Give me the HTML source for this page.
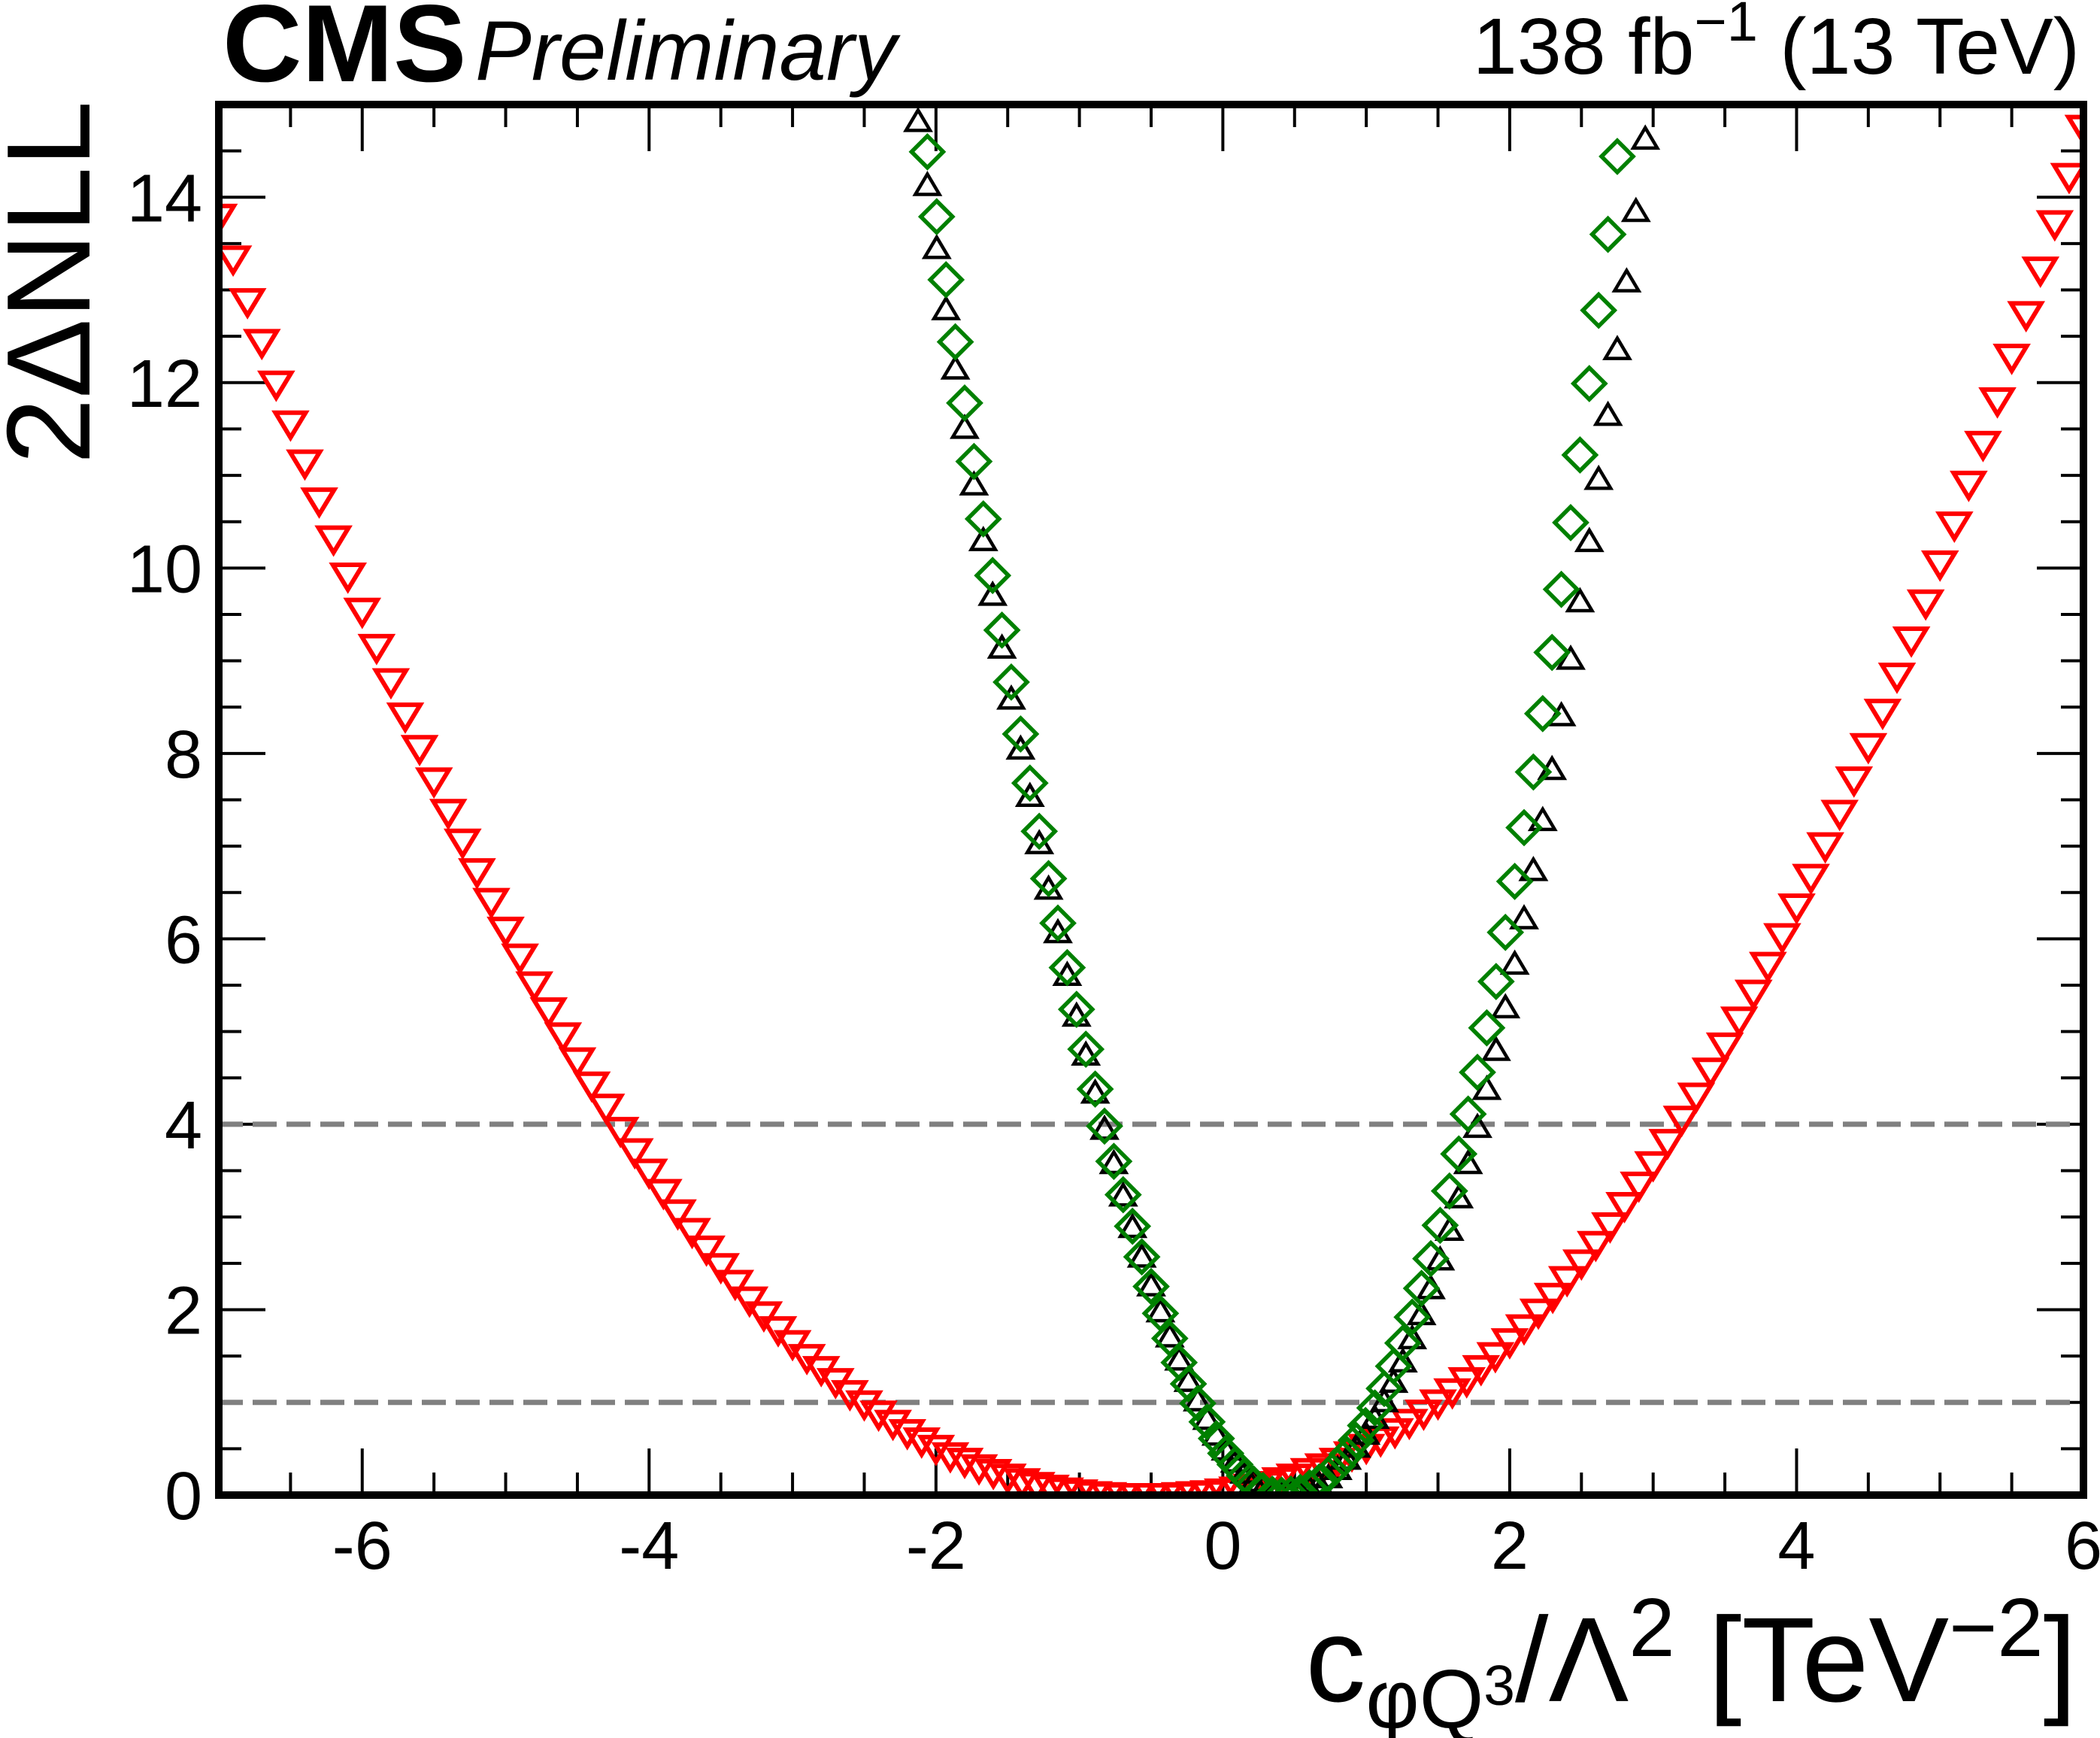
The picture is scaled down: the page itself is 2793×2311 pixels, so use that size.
<!DOCTYPE html>
<html>
<head>
<meta charset="utf-8">
<style>
html,body{margin:0;padding:0;background:#fff;}
svg{display:block;}
text{font-family:"Liberation Sans",Arial,sans-serif;}
</style>
</head>
<body>
<svg id="chart" width="2793" height="2311" viewBox="0 0 2793 2311" xmlns="http://www.w3.org/2000/svg">
  <defs>
    <clipPath id="plotclip"><rect x="291" y="139" width="2480" height="1849"/></clipPath>
  </defs>
  <rect x="0" y="0" width="2793" height="2311" fill="#fff"/>
  <g id="ticks"></g>
  <g id="labels"></g>
  <g id="refs"></g>
  <g id="marks" clip-path="url(#plotclip)"></g>
  <rect x="291" y="139" width="2480" height="1849" fill="none" stroke="#000" stroke-width="10"/>

  <text x="296" y="108" font-size="146" font-weight="bold">CMS</text>
  <text x="632" y="106" font-size="112" font-style="italic">Preliminary</text>
  <text x="2766" y="98" font-size="106" text-anchor="end">138 fb<tspan font-size="74" dy="-44">−1</tspan><tspan dy="44"> (13 TeV)</tspan></text>

  <text transform="translate(119,134) rotate(-90)" font-size="158" text-anchor="end">2ΔNLL</text>
  <text x="2762" y="2262" font-size="160" text-anchor="end">c<tspan font-size="110" dy="35">φQ</tspan><tspan font-size="75" dy="-30">3</tspan><tspan dy="-5">/Λ</tspan><tspan font-size="110" dy="-60">2</tspan><tspan dy="60"> [TeV</tspan><tspan font-size="110" dy="-60">−2</tspan><tspan dy="60">]</tspan></text>
</svg>
<script>
// ---- data ----
const xTickValues = [-6, -4, -2, 0, 2, 4, 6];
const xTickLabels = ["-6", "-4", "-2", "0", "2", "4", "6"];
const yTickValues = [0, 2, 4, 6, 8, 10, 12, 14];
const yTickLabels = ["0", "2", "4", "6", "8", "10", "12", "14"];
const refLevels = [1, 4];

// red scan: x from -7.0 in steps of 0.1
const redStart = -7.0;
const redStep = 0.1;
const redY = [13.8,13.35,12.89,12.45,12.0,11.57,11.15,10.74,10.33,9.93,9.55,9.16,8.79,8.42,8.07,7.72,7.38,7.06,6.74,6.42,6.11,5.82,5.52,5.24,4.97,4.70,4.44,4.20,3.95,3.72,3.50,3.28,3.06,2.86,2.67,2.48,2.30,2.12,1.96,1.80,1.65,1.50,1.37,1.24,1.11,1.00,0.89,0.79,0.69,0.60,0.52,0.44,0.38,0.31,0.26,0.21,0.16,0.12,0.09,0.06,0.04,0.02,0.01,0.00,0.00,
0.00,0.00,0.01,0.02,0.03,0.05,0.07,0.10,0.13,0.17,0.21,0.27,0.32,0.38,0.45,0.53,0.61,0.70,0.80,0.90,1.01,1.13,1.25,1.38,1.52,1.67,1.82,1.99,2.16,2.34,2.52,2.72,2.92,3.14,3.36,3.58,3.82,4.07,4.32,4.59,4.86,5.14,5.43,5.73,6.04,6.36,6.68,7.02,7.37,7.73,8.09,8.46,8.85,9.24,9.64,10.06,10.48,10.92,11.35,11.82,12.29,12.75,13.23,13.73,14.24,14.76];

// black & green scans: x from -2.125 in steps of 0.065
const scanStart = -2.125;
const scanStep = 0.065;
const blackY = [14.81,14.12,13.44,12.78,12.14,11.50,10.89,10.29,9.70,9.13,8.58,8.04,7.53,7.02,6.53,6.06,5.60,5.16,4.74,4.33,3.94,3.57,3.22,2.88,2.56,2.25,1.97,1.70,1.45,1.22,1.01,0.81,0.64,0.48,0.35,0.23,0.14,0.07,0.02,0.00,
0.00,0.02,0.06,0.11,0.18,0.27,0.38,0.51,0.65,0.82,1.00,1.21,1.43,1.68,1.94,2.22,2.53,2.85,3.20,3.57,3.96,4.37,4.79,5.25,5.72,6.21,6.73,7.27,7.82,8.40,9.01,9.63,10.28,10.95,11.64,12.35,13.08,13.84,14.62];
const greenY = [15.21,14.49,13.79,13.11,12.44,11.78,11.15,10.53,9.92,9.33,8.77,8.21,7.68,7.16,6.65,6.17,5.69,5.24,4.81,4.38,3.98,3.60,3.24,2.90,2.57,2.25,1.96,1.69,1.43,1.20,0.99,0.79,0.61,0.45,0.33,0.21,0.12,0.05,0.01,0.00,
0.01,0.03,0.08,0.14,0.22,0.32,0.44,0.59,0.75,0.94,1.15,1.39,1.64,1.92,2.23,2.55,2.91,3.28,3.68,4.11,4.56,5.04,5.54,6.07,6.62,7.20,7.80,8.43,9.09,9.77,10.49,11.22,11.99,12.78,13.60,14.44,15.31];

// ---- axes ----
const X0 = 291, X1 = 2771, Y0 = 1988, Y1 = 139;
const xMin = -7, xMax = 6, yMin = 0, yMax = 15;
function sx(v){ return X0 + (v - xMin) / (xMax - xMin) * (X1 - X0); }
function sy(v){ return Y0 - (v - yMin) / (yMax - yMin) * (Y0 - Y1); }

const NS = "http://www.w3.org/2000/svg";
function mk(tag, attrs, parent){
  const e = document.createElementNS(NS, tag);
  for (const k in attrs) e.setAttribute(k, attrs[k]);
  parent.appendChild(e);
  return e;
}
const ticksG = document.getElementById('ticks');
const labelsG = document.getElementById('labels');
const refsG = document.getElementById('refs');
const marksG = document.getElementById('marks');

for (let v = -7; v <= 6.0001; v += 0.5) {
  const isMajor = Math.abs(v / 2 - Math.round(v / 2)) < 1e-6;
  const len = isMajor ? 62 : 30;
  const x = sx(v);
  const t1 = mk('line', {x1:x, y1:Y0, x2:x, y2:Y0-len, stroke:'#000', 'stroke-width':4}, ticksG);
  
  
  const t2 = mk('line', {x1:x, y1:Y1, x2:x, y2:Y1+len, stroke:'#000', 'stroke-width':4}, ticksG);
  
  
}
for (let v = 0; v <= 15.0001; v += 0.5) {
  const isMajor = Math.abs(v / 2 - Math.round(v / 2)) < 1e-6;
  const len = isMajor ? 62 : 30;
  const y = sy(v);
  const t1 = mk('line', {x1:X0, y1:y, x2:X0+len, y2:y, stroke:'#000', 'stroke-width':4}, ticksG);
  
  
  const t2 = mk('line', {x1:X1, y1:y, x2:X1-len, y2:y, stroke:'#000', 'stroke-width':4}, ticksG);
  
  
}
xTickValues.forEach((v, i) => {
  const t = mk('text', {x:sx(v), y:2086, 'font-size':90, 'text-anchor':'middle'}, labelsG);
  t.textContent = xTickLabels[i];
  
  
});
yTickValues.forEach((v, i) => {
  const t = mk('text', {x:269, y:sy(v)+32, 'font-size':90, 'text-anchor':'end'}, labelsG);
  t.textContent = yTickLabels[i];
  
  
});
refLevels.forEach(v => {
  const l = mk('line', {x1:X0, y1:sy(v), x2:X1, y2:sy(v), stroke:'#808080', 'stroke-width':7, 'stroke-dasharray':'32 13'}, refsG);
  
  
});

function downTri(x, y){ return `M${x-20},${y-13} L${x+20},${y-13} L${x},${y+20} Z`; }
function upTri(x, y){ return `M${x-16},${y+11} L${x+16},${y+11} L${x},${y-16} Z`; }
function diamond(x, y){ return `M${x},${y-21} L${x+21},${y} L${x},${y+21} L${x-21},${y} Z`; }

redY.forEach((v, i) => {
  const xv = redStart + i * redStep;
  const p = mk('path', {d:downTri(sx(xv), sy(v)), fill:'none', stroke:'#ff0000', 'stroke-width':6}, marksG);
  
  
});
blackY.forEach((v, i) => {
  const xv = scanStart + i * scanStep;
  const p = mk('path', {d:upTri(sx(xv), sy(v)), fill:'none', stroke:'#000', 'stroke-width':4.5}, marksG);
  
  
});
greenY.forEach((v, i) => {
  const xv = scanStart + i * scanStep;
  const p = mk('path', {d:diamond(sx(xv), sy(v)), fill:'none', stroke:'#008000', 'stroke-width':5.5}, marksG);
  
  
});
</script>
</body>
</html>
